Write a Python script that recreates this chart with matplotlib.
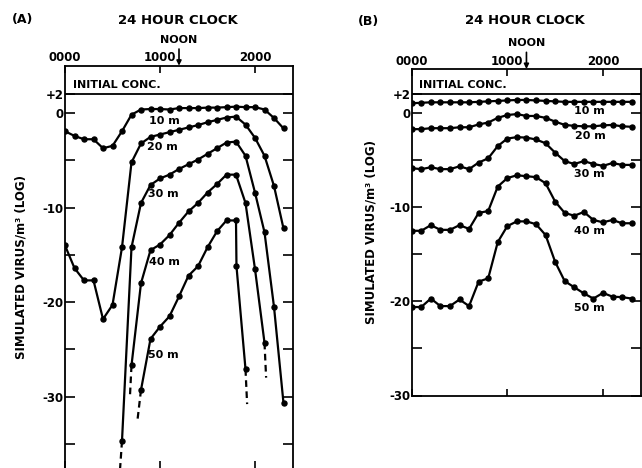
import matplotlib
matplotlib.use('Agg')
import matplotlib.pyplot as plt

plt.rcParams['font.family'] = 'DejaVu Sans'
plt.rcParams['font.weight'] = 'bold'
plt.rcParams['axes.labelweight'] = 'bold'

# -----------------------------------------------------------------------------
# Data (hour of day, log10 simulated virus / m^3)
# -----------------------------------------------------------------------------
hours = list(range(24))

# Panel A
a10 = [-1.9, -2.4, -2.75, -2.75, -3.7, -3.45, -1.9, -0.15, 0.4, 0.45, 0.45, 0.4,
       0.55, 0.55, 0.55, 0.6, 0.6, 0.65, 0.7, 0.65, 0.65, 0.4, -0.5, -1.6]
a20 = [-14.0, -16.4, -17.7, -17.7, -21.8, -20.3, -14.2, -5.2, -3.2, -2.5, -2.25, -2.0,
       -1.75, -1.5, -1.25, -0.95, -0.7, -0.45, -0.35, -1.2, -2.6, -4.5, -7.7, -12.2]
a30_hours = list(range(6, 24))
a30 = [-34.7, -14.2, -9.5, -7.6, -6.9, -6.5, -5.9, -5.4, -4.9, -4.3, -3.7, -3.1,
       -3.0, -4.5, -8.4, -12.6, -20.5, -30.7]
a40_hours = list(range(7, 22))
a40 = [-26.7, -18.0, -14.5, -13.9, -12.9, -11.6, -10.4, -9.5, -8.4, -7.5, -6.5, -6.5,
       -9.5, -16.5, -24.3]
a50_hours = [8, 9, 10, 11, 12, 13, 14, 15, 16, 17, 18, 18.05, 19]
a50 = [-29.3, -23.9, -22.6, -21.5, -19.4, -17.2, -16.2, -14.2, -12.5, -11.35, -11.35,
       -16.2, -27.1]

# dashed tails (curve continues off-scale): start point = curve end, end point below
a30_tail = ([6, 5.8], [-34.7, -37.6])
a40_tail = ([7, 6.84], [-26.7, -29.9])
a50_tail = ([8, 7.64], [-29.3, -32.4])
a50_tail_pm = ([19, 19.17], [-27.1, -30.8])
a40_tail_pm = ([21, 21.17], [-24.3, -28.0])

# Panel B
b10 = [1.05, 1.1, 1.15, 1.15, 1.15, 1.15, 1.15, 1.2, 1.25, 1.3, 1.35, 1.4,
       1.4, 1.35, 1.3, 1.25, 1.2, 1.2, 1.2, 1.2, 1.2, 1.2, 1.2, 1.2]
b20 = [-1.7, -1.7, -1.6, -1.6, -1.6, -1.5, -1.5, -1.2, -1.0, -0.5, -0.2, -0.1,
       -0.3, -0.3, -0.5, -0.9, -1.25, -1.35, -1.4, -1.4, -1.3, -1.25, -1.4, -1.45]
b30 = [-5.85, -5.95, -5.75, -5.95, -5.95, -5.65, -5.95, -5.25, -4.8, -3.5, -2.7, -2.55,
       -2.6, -2.8, -3.2, -4.2, -5.1, -5.4, -5.1, -5.4, -5.6, -5.3, -5.5, -5.5]
b40 = [-12.5, -12.5, -11.9, -12.4, -12.4, -11.9, -12.3, -10.6, -10.4, -7.8, -6.9, -6.6,
       -6.7, -6.8, -7.45, -9.4, -10.6, -10.9, -10.5, -11.35, -11.6, -11.35, -11.7, -11.7]
b50 = [-20.6, -20.6, -19.7, -20.5, -20.5, -19.8, -20.5, -17.9, -17.55, -13.7, -12.0, -11.5,
       -11.5, -11.8, -12.95, -15.8, -17.85, -18.5, -19.15, -19.7, -19.1, -19.5, -19.55, -19.7]

height_labels = ['10 m', '20 m', '30 m', '40 m', '50 m']
a_label_pos = [(10.5, -0.85), (10.3, -3.6), (10.4, -8.6), (10.5, -15.7), (10.3, -25.6)]
b_label_pos = [(18.6, 0.25), (18.7, -2.4), (18.6, -6.5), (18.6, -12.5), (18.6, -20.7)]

clock_ticks = [0, 10, 20]
clock_labels = ['0000', '1000', '2000']
y_major = [2, 0, -10, -20, -30]
y_major_labels = ['+2', '0', '-10', '-20', '-30']
initial_conc = 2
noon = 12


def curve(ax, x, y):
    ax.plot(x, y, '-o', color='black', lw=1.6, ms=3.6, clip_on=True)


def tail(ax, t):
    ax.plot(t[0], t[1], color='black', lw=1.6, dashes=(3, 2))


def setup_panel(ax, ylo, yhi, minors, show_bottom):
    ax.set_xlim(0, 24)
    ax.set_ylim(ylo, yhi)
    ax.axhline(initial_conc, color='black', lw=1.3)
    ax.text(0.8, initial_conc + 0.45, 'INITIAL CONC.', fontsize=8, va='bottom', ha='left')

    ax.set_xticks(clock_ticks)
    ax.set_xticklabels(clock_labels, fontsize=8.5)
    ax.tick_params(axis='x', which='both', direction='in', top=True, bottom=True,
                   labeltop=True, labelbottom=False, length=5, width=1.2, pad=1)
    ax.set_yticks(y_major)
    ax.set_yticklabels(y_major_labels, fontsize=8.5)
    ax.set_yticks(minors, minor=True)
    ax.tick_params(axis='y', which='both', direction='in', left=True, right=True,
                   length=7, width=1.2, pad=1)
    for s in ax.spines.values():
        s.set_linewidth(1.3)
    ax.spines['bottom'].set_visible(show_bottom)

    ax.annotate('NOON', xy=(noon, 1), xycoords=('data', 'axes fraction'),
                xytext=(0, 15), textcoords='offset points', ha='center', va='bottom',
                fontsize=8,
                arrowprops=dict(arrowstyle='-|>', color='black', lw=1.2,
                                mutation_scale=7, shrinkA=1, shrinkB=0))
    ax.set_ylabel('SIMULATED VIRUS/m³ (LOG)', fontsize=8.5, fontweight='bold')


fig = plt.figure(figsize=(6.42, 4.68), dpi=100)
axA = fig.add_axes([65 / 642, 0.0, 228 / 642, 402.3 / 468])
axB = fig.add_axes([411.7 / 642, 72.5 / 468, 229.5 / 642, 326.5 / 468])

# -----------------------------------------------------------------------------
# Panel A
# -----------------------------------------------------------------------------
setup_panel(axA, -37.57, 5.04, [-5, -15, -25, -35], False)
curve(axA, hours, a10)
curve(axA, hours, a20)
curve(axA, a30_hours, a30)
curve(axA, a40_hours, a40)
curve(axA, a50_hours, a50)
for t in [a30_tail, a40_tail, a50_tail, a50_tail_pm, a40_tail_pm]:
    tail(axA, t)
for lab, (x, y) in zip(height_labels, a_label_pos):
    axA.text(x, y, lab, fontsize=8, ha='center', va='center')
axA.yaxis.set_label_coords(-0.165, 0.5)

# -----------------------------------------------------------------------------
# Panel B
# -----------------------------------------------------------------------------
setup_panel(axB, -30, 4.69, [-5, -15, -25], True)
for series in [b10, b20, b30, b40, b50]:
    curve(axB, hours, series)
for lab, (x, y) in zip(height_labels, b_label_pos):
    axB.text(x, y, lab, fontsize=8, ha='center', va='center')
axB.yaxis.set_label_coords(-0.148, 0.5)

# headings
fig.text(12 / 642, 448 / 468, '(A)', fontsize=9, va='center', ha='left')
fig.text(178 / 642, 448 / 468, '24 HOUR CLOCK', fontsize=9.5, va='center', ha='center')
fig.text(358 / 642, 446 / 468, '(B)', fontsize=9, va='center', ha='left')
fig.text(525 / 642, 448 / 468, '24 HOUR CLOCK', fontsize=9.5, va='center', ha='center')

fig.savefig('out.png', dpi=100)
